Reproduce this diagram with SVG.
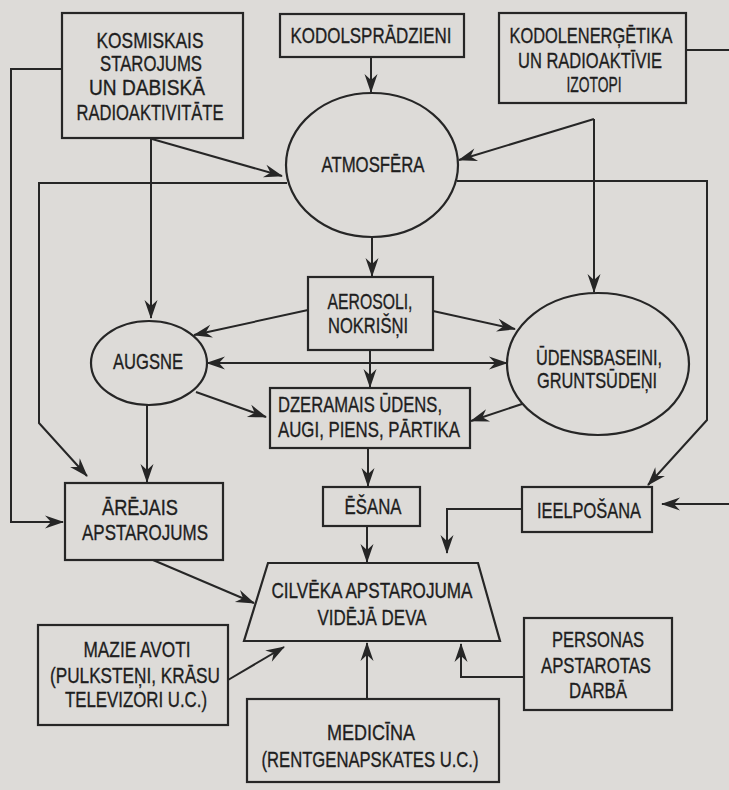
<svg xmlns="http://www.w3.org/2000/svg" width="729" height="790" viewBox="0 0 729 790">
  <style>
    .shape { fill: none; stroke: #262626; stroke-width: 2.2; }
    .link { fill: none; stroke: #262626; stroke-width: 2; }
    .arr { marker-end: url(#head); }
    .both { marker-start: url(#head); marker-end: url(#head); }
    text { font-family: "Liberation Sans", Arial, sans-serif; font-size: 22px; fill: #1e1e1e; stroke: #1e1e1e; stroke-width: 0.35; text-anchor: middle; }
  </style>
  <defs>
    <marker id="head" viewBox="-19 -8 21 16" refX="0" refY="0" markerWidth="21" markerHeight="16" markerUnits="userSpaceOnUse" orient="auto-start-reverse">
      <path d="M1,0 L-18,-6.5 L-12,0 L-18,6.5 Z" fill="#262626"/>
    </marker>
  </defs>

  <!-- paper -->
  <rect x="0" y="0" width="729" height="790" fill="#dddbd8"/>

  <!-- connectors -->
  <g id="connectors">
    <path class="link arr" d="M152,139 L282,176"/>
    <path class="link arr" d="M151,139 V318"/>
    <path class="link arr" d="M62,69 H11 V522 H63"/>
    <path class="link arr" d="M371,57 V92"/>
    <path class="link arr" d="M594,119 L459,160"/>
    <path class="link arr" d="M594,119 V292"/>
    <path class="link" d="M686,50 H729"/>
    <path class="link arr" d="M729,504 H662"/>
    <path class="link arr" d="M287,183 H39 V423 L87,476"/>
    <path class="link arr" d="M457,181 H707 V420 L648,485"/>
    <path class="link arr" d="M372,237 V276"/>
    <path class="link arr" d="M308,310 L194,335"/>
    <path class="link arr" d="M433,311 L515,329"/>
    <path class="link both" d="M207,363 H507"/>
    <path class="link arr" d="M370,350 V387"/>
    <path class="link arr" d="M196,392 L266,417"/>
    <path class="link arr" d="M522,404 L471,421"/>
    <path class="link arr" d="M147,405 V482"/>
    <path class="link arr" d="M368,448 V486"/>
    <path class="link arr" d="M367,526 V562"/>
    <path class="link arr" d="M522,509 H447 V553"/>
    <path class="link arr" d="M153,560 L254,603"/>
    <path class="link arr" d="M228,680 L284,647"/>
    <path class="link arr" d="M367,699 V643"/>
    <path class="link arr" d="M524,677 H461 V644"/>
  </g>

  <g id="kosmiskais">
    <rect class="shape" x="62" y="13" width="181" height="125"/>
    <text x="150" y="48" textLength="107" lengthAdjust="spacingAndGlyphs">KOSMISKAIS</text>
    <text x="151" y="71" textLength="102" lengthAdjust="spacingAndGlyphs">STAROJUMS</text>
    <text x="147" y="95" textLength="116" lengthAdjust="spacingAndGlyphs">UN DABISKĀ</text>
    <text x="150" y="120" textLength="147" lengthAdjust="spacingAndGlyphs">RADIOAKTIVITĀTE</text>
  </g>

  <g id="kodolspradzieni">
    <rect class="shape" x="280" y="14" width="184" height="43"/>
    <text x="371" y="43" textLength="161" lengthAdjust="spacingAndGlyphs">KODOLSPRĀDZIENI</text>
  </g>

  <g id="kodolenergetika">
    <rect class="shape" x="499" y="13" width="187" height="90"/>
    <text x="591" y="43" textLength="163" lengthAdjust="spacingAndGlyphs">KODOLENERĢĒTIKA</text>
    <text x="590" y="68" textLength="144" lengthAdjust="spacingAndGlyphs">UN RADIOAKTĪVIE</text>
    <text x="594" y="92" textLength="55" lengthAdjust="spacingAndGlyphs">IZOTOPI</text>
  </g>

  <g id="atmosfera">
    <ellipse class="shape" cx="372" cy="165" rx="86" ry="72"/>
    <text x="373" y="172" textLength="103" lengthAdjust="spacingAndGlyphs">ATMOSFĒRA</text>
  </g>

  <g id="aerosoli">
    <rect class="shape" x="308" y="277" width="125" height="73"/>
    <text x="370" y="309" textLength="85" lengthAdjust="spacingAndGlyphs">AEROSOLI,</text>
    <text x="368" y="333" textLength="80" lengthAdjust="spacingAndGlyphs">NOKRIŠŅI</text>
  </g>

  <g id="augsne">
    <ellipse class="shape" cx="149" cy="363" rx="58" ry="42"/>
    <text x="148" y="369" textLength="70" lengthAdjust="spacingAndGlyphs">AUGSNE</text>
  </g>

  <g id="udensbaseini">
    <ellipse class="shape" cx="598" cy="364" rx="91" ry="71"/>
    <text x="599" y="365" textLength="126" lengthAdjust="spacingAndGlyphs">ŪDENSBASEINI,</text>
    <text x="597" y="388" textLength="120" lengthAdjust="spacingAndGlyphs">GRUNTSŪDEŅI</text>
  </g>

  <g id="dzeramais">
    <rect class="shape" x="270" y="388" width="200" height="60"/>
    <text x="360" y="412" textLength="164" lengthAdjust="spacingAndGlyphs">DZERAMAIS ŪDENS,</text>
    <text x="369" y="437" textLength="182" lengthAdjust="spacingAndGlyphs">AUGI, PIENS, PĀRTIKA</text>
  </g>

  <g id="esana">
    <rect class="shape" x="323" y="487" width="97" height="39"/>
    <text x="373" y="514" textLength="57" lengthAdjust="spacingAndGlyphs">ĒŠANA</text>
  </g>

  <g id="ieelposana">
    <rect class="shape" x="522" y="487" width="130" height="45"/>
    <text x="589" y="518" textLength="104" lengthAdjust="spacingAndGlyphs">IEELPOŠANA</text>
  </g>

  <g id="arejais">
    <rect class="shape" x="65" y="483" width="158" height="77"/>
    <text x="140" y="515" textLength="76" lengthAdjust="spacingAndGlyphs">ĀRĒJAIS</text>
    <text x="145" y="540" textLength="126" lengthAdjust="spacingAndGlyphs">APSTAROJUMS</text>
  </g>

  <g id="cilveka">
    <path class="shape" d="M268,563 H478 L500,641 H244 Z"/>
    <text x="372" y="598" textLength="201" lengthAdjust="spacingAndGlyphs">CILVĒKA APSTAROJUMA</text>
    <text x="372" y="625" textLength="109" lengthAdjust="spacingAndGlyphs">VIDĒJĀ DEVA</text>
  </g>

  <g id="mazie-avoti">
    <rect class="shape" x="38" y="625" width="190" height="100"/>
    <text x="137" y="657" textLength="107" lengthAdjust="spacingAndGlyphs">MAZIE AVOTI</text>
    <text x="135" y="683" textLength="170" lengthAdjust="spacingAndGlyphs">(PULKSTEŅI, KRĀSU</text>
    <text x="136" y="707" textLength="142" lengthAdjust="spacingAndGlyphs">TELEVIZORI U.C.)</text>
  </g>

  <g id="personas">
    <rect class="shape" x="524" y="618" width="148" height="92"/>
    <text x="598" y="647" textLength="92" lengthAdjust="spacingAndGlyphs">PERSONAS</text>
    <text x="596" y="673" textLength="110" lengthAdjust="spacingAndGlyphs">APSTAROTAS</text>
    <text x="598" y="698" textLength="58" lengthAdjust="spacingAndGlyphs">DARBĀ</text>
  </g>

  <g id="medicina">
    <rect class="shape" x="247" y="699" width="252" height="83"/>
    <text x="371" y="740" textLength="88" lengthAdjust="spacingAndGlyphs">MEDICĪNA</text>
    <text x="370" y="767" textLength="217" lengthAdjust="spacingAndGlyphs">(RENTGENAPSKATES U.C.)</text>
  </g>
</svg>
